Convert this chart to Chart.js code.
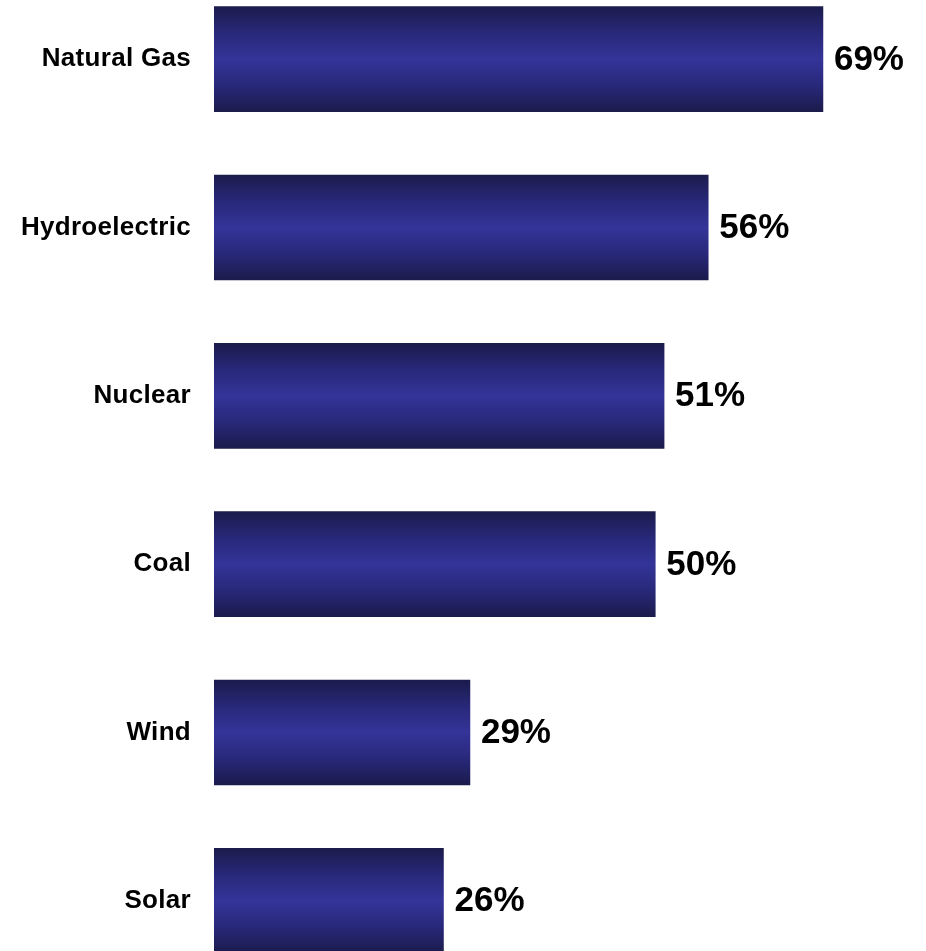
<!DOCTYPE html>
<html>
<head>
    <title>Power source bars</title>
    <script src="https://cdn.jsdelivr.net/npm/chart.js@4"></script>
    <style>
        html, body {
            margin: 0;
            padding: 0;
            background: #ffffff;
            overflow: hidden;
        }

        .wrap {
            position: absolute;
            left: 0;
            top: -25px;
            width: 926px;
            height: 1010px;
        }
    </style>
</head>
<body>
<div class="wrap">
    <canvas id="bars" width="926" height="1010"></canvas>
</div>

<script>
    const categories = ['Natural Gas', 'Hydroelectric', 'Nuclear', 'Coal', 'Wind', 'Solar'];
    const shares = [69, 56, 51, 50, 29, 26];

    // vertical shading on each bar: dark edges, lighter blue middle
    function barFill(c) {
        const chart = c.chart;
        if (!chart.chartArea) {
            return '#333399';
        }
        const y = chart.scales.y.getPixelForValue(c.dataIndex);
        const half = 52.5;
        const g = chart.ctx.createLinearGradient(0, y - half, 0, y + half);
        g.addColorStop(0, '#1b1b4c');
        g.addColorStop(0.25, '#28287a');
        g.addColorStop(0.5, '#343499');
        g.addColorStop(0.75, '#28287a');
        g.addColorStop(1, '#1b1b4c');
        return g;
    }

    // the category labels in the original are a touch spread out
    const spacing = {
        id: 'spacing',
        beforeDraw(chart) {
            chart.ctx.letterSpacing = '0.3px';
        }
    };

    const valueLabels = {
        id: 'valueLabels',
        afterDatasetsDraw(chart) {
            const ctx = chart.ctx;
            const meta = chart.getDatasetMeta(0);
            ctx.save();
            ctx.letterSpacing = '0px';
            ctx.font = 'bold 35px "Liberation Sans", Arial, sans-serif';
            ctx.fillStyle = '#000000';
            ctx.textAlign = 'left';
            ctx.textBaseline = 'middle';
            meta.data.forEach((bar, i) => {
                ctx.fillText(shares[i] + '%', bar.x + 11, bar.y + 1);
            });
            ctx.restore();
        }
    };

    const chart = new Chart(document.getElementById('bars').getContext('2d'), {
        type: 'bar',
        data: {
            labels: categories,
            datasets: [{
                data: shares,
                backgroundColor: barFill,
                borderWidth: 0,
                barThickness: 105
            }]
        },
        options: {
            indexAxis: 'y',
            responsive: false,
            devicePixelRatio: 1,
            animation: false,
            layout: {
                padding: {top: 0, bottom: 0, left: 0, right: 6}
            },
            plugins: {
                legend: {display: false},
                tooltip: {enabled: false}
            },
            scales: {
                x: {
                    display: false,
                    min: 0,
                    max: 80
                },
                y: {
                    afterFit(scale) {
                        scale.width = 214;
                        scale.paddingTop = 0;
                        scale.paddingBottom = 0;
                    },
                    grid: {display: false, drawTicks: false},
                    border: {display: false},
                    ticks: {
                        color: '#000000',
                        padding: 23,
                        font: {
                            family: '"Liberation Sans", Arial, sans-serif',
                            size: 26,
                            weight: 'bold'
                        }
                    }
                }
            }
        },
        plugins: [spacing, valueLabels]
    });
</script>
</body>
</html>
